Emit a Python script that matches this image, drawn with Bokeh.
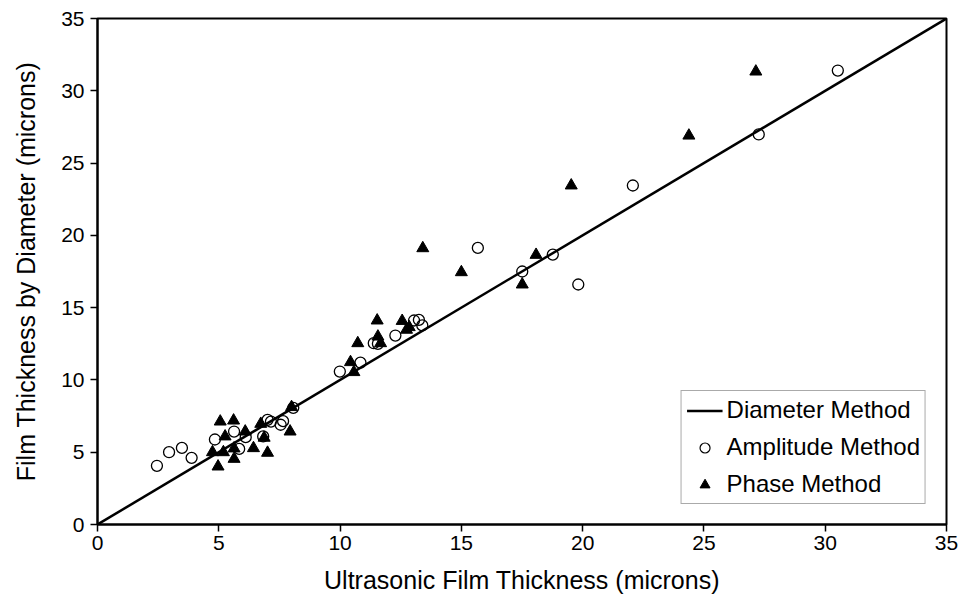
from bokeh.plotting import figure
from bokeh.models import Range1d, FixedTicker, Legend, LegendItem
from bokeh.embed import file_html
from bokeh.resources import INLINE

# Diameter method reference line (y = x)
diam_x = [0, 35]
diam_y = [0, 35]

# Amplitude method (open circles)
amp_x = [2.45, 2.95, 3.48, 3.88, 4.84, 5.63, 5.84, 6.11, 6.83, 7.01, 7.15, 7.55, 7.65, 8.07,
         9.99, 10.84, 11.39, 11.56, 12.28, 13.05, 13.25, 13.39,
         17.51, 18.77, 15.68, 19.82, 22.07, 27.26, 30.52]
amp_y = [4.06, 5.0, 5.30, 4.61, 5.88, 6.43, 5.23, 6.04, 6.09, 7.24, 7.12, 6.9, 7.15, 8.07,
         10.58, 11.2, 12.54, 12.5, 13.07, 14.11, 14.15, 13.77,
         17.5, 18.67, 19.13, 16.6, 23.45, 26.98, 31.4]

# Phase method (filled triangles)
ph_x = [4.74, 4.97, 5.06, 5.19, 5.26, 5.61, 5.63, 5.63, 6.09, 6.43, 6.73, 6.87, 7.01, 7.94, 8.0,
        10.43, 10.57, 10.73, 11.53, 11.56, 11.67, 12.56, 12.74, 12.85,
        13.41, 15.0, 17.51, 18.08, 19.53, 24.38, 27.14]
ph_y = [5.0, 4.01, 7.12, 5.0, 6.09, 7.19, 5.26, 4.54, 6.43, 5.28, 6.96, 6.0, 4.96, 6.43, 8.12,
        11.23, 10.54, 12.54, 14.11, 13.0, 12.54, 14.08, 13.47, 13.65,
        19.11, 17.45, 16.6, 18.65, 23.45, 26.9, 31.33]

ticks = [0, 5, 10, 15, 20, 25, 30, 35]

FONT = "Liberation Sans"

p = figure(width=960, height=614, output_backend="svg", toolbar_location=None,
           x_range=Range1d(0, 35), y_range=Range1d(0, 35),
           min_border_left=97, min_border_right=14, min_border_top=18, min_border_bottom=90)

p.xgrid.visible = False
p.ygrid.visible = False
p.background_fill_color = "white"
p.border_fill_color = "white"
p.outline_line_color = "black"
p.outline_line_width = 2
p.outline_line_alpha = 1

for ax in (p.xaxis[0], p.yaxis[0]):
    ax.ticker = FixedTicker(ticks=ticks)
    ax.axis_line_width = 2
    ax.axis_line_color = "black"
    ax.major_tick_line_color = "black"
    ax.major_tick_line_width = 1.5
    ax.major_tick_in = 0
    ax.major_tick_out = 7
    ax.minor_tick_line_color = None
    ax.major_label_text_font = FONT
    ax.major_label_text_font_size = "21px"
    ax.major_label_text_color = "black"
    ax.axis_label_text_font = FONT
    ax.axis_label_text_font_size = "25px"
    ax.axis_label_text_font_style = "normal"
    ax.axis_label_text_color = "black"

p.xaxis.axis_label = "Ultrasonic Film Thickness (microns)"
p.yaxis.axis_label = "Film Thickness by Diameter (microns)"
p.xaxis.major_label_standoff = 4
p.xaxis.axis_label_standoff = 13
p.yaxis.major_label_standoff = 6
p.yaxis.axis_label_standoff = 18

line_r = p.line(diam_x, diam_y, line_color="black", line_width=2.5)
tri_r = p.scatter(ph_x, ph_y, marker="triangle", size=12, fill_color="black", line_color="black")
circ_r = p.scatter(amp_x, amp_y, marker="circle", size=11, fill_alpha=0, line_color="black", line_width=1.3)

# small legend glyphs (placed outside the visible range)
leg_c = p.scatter(x=[-100], y=[-100], marker="circle", size=7, fill_alpha=0, line_color="black", line_width=1.2)
leg_t = p.scatter(x=[-100], y=[-100], marker="triangle", size=8, fill_color="black", line_color="black")

legend = Legend(items=[
    LegendItem(label="Diameter Method", renderers=[line_r]),
    LegendItem(label="Amplitude Method", renderers=[leg_c]),
    LegendItem(label="Phase Method", renderers=[leg_t]),
], location="bottom_right")
legend.label_text_font = FONT
legend.label_text_font_size = "24px"
legend.label_text_color = "black"
legend.border_line_color = "#555555"
legend.border_line_width = 1
legend.background_fill_alpha = 1
legend.padding = 5
legend.spacing = 9
legend.margin = 20
legend.glyph_width = 36
legend.glyph_height = 25
legend.label_height = 25
legend.label_standoff = 4
p.add_layout(legend)

open("out.html", "w").write(file_html(p, INLINE))
